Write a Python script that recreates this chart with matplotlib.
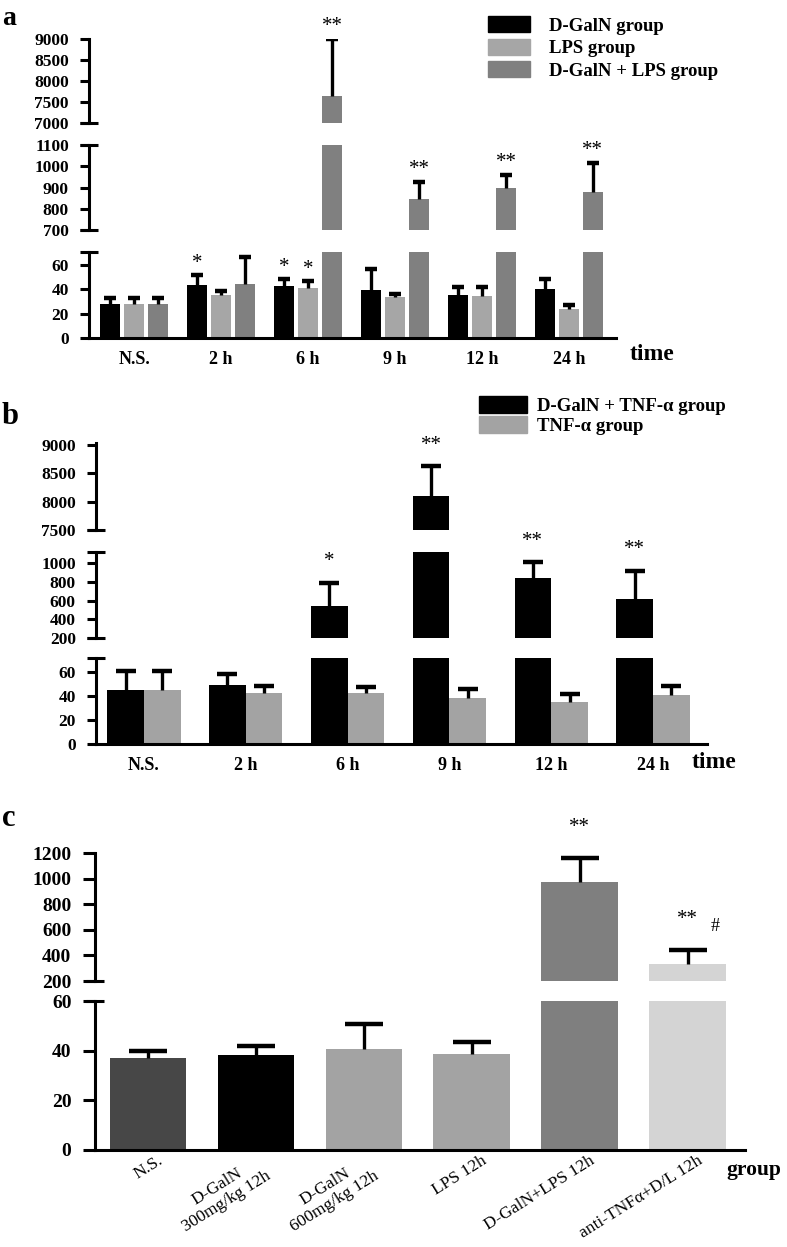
import matplotlib.pyplot as plt
import numpy as np
from matplotlib.patches import Patch
from matplotlib.transforms import ScaledTranslation

# ---- data ----
time_labels = ["N.S.", "2 h", "6 h", "9 h", "12 h", "24 h"]

# panel a
a_galn = [28, 43.3, 42.8, 39.5, 35.6, 40.6]
a_galn_err = [5, 8.5, 6, 17, 6.6, 7.7]
a_galn_sig = ["", "*", "*", "", "", ""]
a_lps = [28, 35.4, 40.9, 33.5, 34.6, 24.1]
a_lps_err = [5, 3, 6, 2.7, 7.6, 3]
a_lps_sig = ["", "", "*", "", "", ""]
a_combo = [28, 44.7, 7650, 846, 896, 879]
a_combo_err = [5, 22, 1340, 80, 64, 134]
a_combo_sig = ["", "", "**", "**", "**", "**"]

# panel b
b_combo = [45, 49.2, 542, 8100, 838, 617]
b_combo_err = [16, 9, 250, 520, 172, 303]
b_combo_sig = ["", "", "*", "**", "**", "**"]
b_tnf = [45, 42.2, 42.2, 38, 35.3, 40.6]
b_tnf_err = [16, 6, 5.5, 8, 6.4, 8]
b_tnf_sig = ["", "", "", "", "", ""]

# panel c
c_labels = ["N.S.", "D-GalN\n300mg/kg 12h", "D-GalN\n600mg/kg 12h",
            "LPS 12h", "D-GalN+LPS 12h", "anti-TNF\u03b1+D/L 12h"]
c_vals = [37.1, 38.4, 40.7, 38.8, 971, 335]
c_err = [2.7, 3.6, 10.2, 4.6, 190, 105]
c_sig = ["", "", "", "", "**", "**"]
c_colors = ["#474747", "#000000", "#a3a3a3", "#a3a3a3", "#7f7f7f", "#d4d4d4"]

W, H = 787, 1247
plt.rcParams['font.family'] = ['Liberation Serif', 'DejaVu Serif']
plt.rcParams['font.weight'] = 'bold'

fig = plt.figure(figsize=(W / 100, H / 100), dpi=100)


def px_box(x0, y0, x1, y1):
    return [x0 / W, 1 - y1 / H, (x1 - x0) / W, (y1 - y0) / H]


def broken_axes(x0, x1, segs, xlim, tick_fs, tick_len):
    """Stack of axes (top -> bottom) that together make one broken y axis."""
    axes = []
    for i, (y0, y1, lim, ticks, breaks) in enumerate(segs):
        ax = fig.add_axes(px_box(x0, y0, x1, y1))
        ax.set_xlim(*xlim)
        ax.set_ylim(*lim)
        ax.set_yticks(ticks)
        ax.set_yticklabels([str(t) for t in ticks], fontsize=tick_fs,
                           fontweight="bold")
        last = i == len(segs) - 1
        for s in ["top", "right"]:
            ax.spines[s].set_visible(False)
        ax.spines["bottom"].set_visible(last)
        ax.spines["left"].set_linewidth(2.2)
        ax.spines["bottom"].set_linewidth(2.2)
        ax.tick_params(axis="y", length=tick_len, width=2.2, pad=8)
        ax.tick_params(axis="x", length=0, labelbottom=last)
        if not last:
            ax.set_xticks([])
        ax.patch.set_alpha(0)
        L = 9 / (x1 - x0)
        for yb in breaks:
            ax.plot([-L, L], [yb, yb], transform=ax.get_yaxis_transform(),
                    color="black", lw=2.2, clip_on=False,
                    solid_capstyle="butt")
        axes.append(ax)
    return axes


def draw_series(axes, x, vals, errs, width, color, sig, cap, gap):
    for ax in axes:
        ax.bar(x, vals, width, color=color, zorder=2)
        eb = ax.errorbar(x, vals, yerr=[np.zeros(len(vals)), errs],
                         fmt="none", ecolor="black", elinewidth=2.4,
                         capsize=cap, capthick=3.2, zorder=3)
        eb[1][0].set_visible(False)   # only the upper cap
    for xi, v, e, s in zip(x, vals, errs, sig):
        if not s:
            continue
        top = v + e
        target = axes[0]
        for ax in axes:
            lo, hi = ax.get_ylim()
            if lo <= top <= hi:
                target = ax
                break
        target.annotate(s, xy=(xi, top), xytext=(0, gap),
                        textcoords="offset points", ha="center", va="center",
                        fontsize=15, fontweight="normal",
                        annotation_clip=False)


# ---------------- panel a ----------------
xa = np.arange(len(time_labels))
axa = broken_axes(89, 616, [
    (39, 123, (7000, 9000), [7000, 7500, 8000, 8500, 9000], [7000]),
    (145, 230, (700, 1100), [700, 800, 900, 1000, 1100], [700, 1100]),
    (252, 338, (0, 70.8), [0, 20, 40, 60], [70.8]),
], (-0.52, 5.54), 12.5, 6.5)
draw_series(axa, xa - 0.275, a_galn, a_galn_err, 0.23, "#000000", a_galn_sig, 4, 8)
draw_series(axa, xa, a_lps, a_lps_err, 0.23, "#a6a6a6", a_lps_sig, 4, 8)
draw_series(axa, xa + 0.275, a_combo, a_combo_err, 0.23, "#808080", a_combo_sig, 4, 9)
axa[-1].set_xticks(xa)
axa[-1].set_xticklabels(time_labels, fontsize=13, fontweight="bold")
axa[-1].tick_params(axis="x", pad=9)
axa[0].legend(handles=[Patch(color="#000000"), Patch(color="#a6a6a6"),
                       Patch(color="#808080")],
              labels=["D-GalN group", "LPS group", "D-GalN + LPS group"],
              loc="upper left", bbox_to_anchor=(488 / W, 1 - 16 / H),
              bbox_transform=fig.transFigure, frameon=False, fontsize=13.5,
              handlelength=2.25, handleheight=0.95, labelspacing=0.22,
              handletextpad=1.0, borderpad=0, borderaxespad=0)
fig.text(630 / W, 1 - 355 / H, "time", fontsize=17, va="center", ha="left")
fig.text(2 / W, 1 - 25 / H, "a", fontsize=20, va="baseline", ha="left")

# ---------------- panel b ----------------
axb = broken_axes(96, 707, [
    (443, 530, (7500, 9030), [7500, 8000, 8500, 9000], [7500]),
    (552, 638, (200, 1120), [200, 400, 600, 800, 1000], [200, 1120]),
    (658, 744, (0, 71.7), [0, 20, 40, 60], [71.7]),
], (-0.47, 5.53), 12.5, 6.5)
draw_series(axb, xa - 0.18, b_combo, b_combo_err, 0.36, "#000000", b_combo_sig, 7.5, 15)
draw_series(axb, xa + 0.18, b_tnf, b_tnf_err, 0.36, "#a3a3a3", b_tnf_sig, 7.5, 12)
axb[-1].set_xticks(xa)
axb[-1].set_xticklabels(time_labels, fontsize=13, fontweight="bold")
axb[-1].tick_params(axis="x", pad=9)
axb[0].legend(handles=[Patch(color="#000000"), Patch(color="#a3a3a3")],
              labels=["D-GalN + TNF-\u03b1 group", "TNF-\u03b1 group"],
              loc="upper left", bbox_to_anchor=(479 / W, 1 - 396 / H),
              bbox_transform=fig.transFigure, frameon=False, fontsize=13.5,
              handlelength=2.55, handleheight=1.0, labelspacing=0.08,
              handletextpad=0.55, borderpad=0, borderaxespad=0)
fig.text(692 / W, 1 - 763 / H, "time", fontsize=17, va="center", ha="left")
fig.text(2 / W, 1 - 424 / H, "b", fontsize=22, va="baseline", ha="left")

# ---------------- panel c ----------------
xc = np.arange(len(c_labels))
axc = broken_axes(95, 745, [
    (853, 981, (200, 1200), [200, 400, 600, 800, 1000, 1200], [200]),
    (1001, 1150, (0, 60), [0, 20, 40, 60], [60]),
], (-0.49, 5.53), 14, 9)
draw_series(axc, xc, c_vals, c_err, 0.71, c_colors, c_sig, 14, 22)
axc[0].annotate("#", xy=(xc[5], c_vals[5] + c_err[5]), xytext=(20, 17),
                textcoords="offset points", ha="center", va="center",
                fontsize=13, fontweight="normal", annotation_clip=False)
axc[-1].set_xticks(xc)
axc[-1].set_xticklabels(c_labels, fontsize=12.5, fontweight="normal",
                        rotation=32, ha="right", va="top",
                        multialignment="center")
axc[-1].tick_params(axis="x", pad=2)
shift = ScaledTranslation(13 / 72, 0, fig.dpi_scale_trans)
for lab in axc[-1].get_xticklabels():
    lab.set_transform(lab.get_transform() + shift)
fig.text(726 / W, 1 - 1170 / H, "group", fontsize=15.5, va="center", ha="left")
fig.text(2 / W, 1 - 826 / H, "c", fontsize=22, va="baseline", ha="left")

plt.savefig("out.png", dpi=100)
plt.close()
